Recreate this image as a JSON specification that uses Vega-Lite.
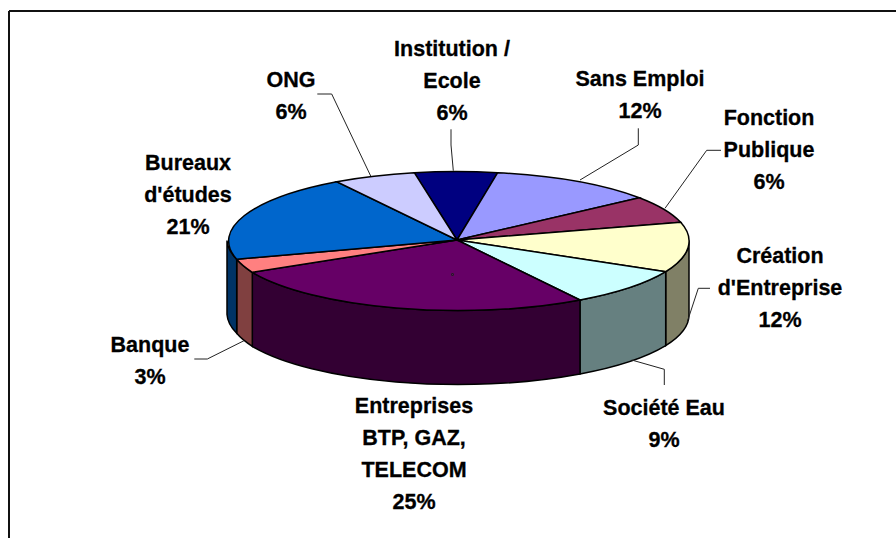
{
"$schema":"https://vega.github.io/schema/vega-lite/v6.json",
"width":887,"height":527,"padding":{"left":9,"top":11,"right":0,"bottom":0},"autosize":"none",
"background":"white",
"view":{"stroke":null},
"data":{"values":[
{"category":"Institution / Ecole","pct":6,"label":"Institution /\nEcole\n6%"},
{"category":"Sans Emploi","pct":12,"label":"Sans Emploi\n12%"},
{"category":"Fonction Publique","pct":6,"label":"Fonction\nPublique\n6%"},
{"category":"Création d'Entreprise","pct":12,"label":"Création\nd'Entreprise\n12%"},
{"category":"Société Eau","pct":9,"label":"Société Eau\n9%"},
{"category":"Entreprises BTP, GAZ, TELECOM","pct":25,"label":"Entreprises\nBTP, GAZ,\nTELECOM\n25%"},
{"category":"Banque","pct":3,"label":"Banque\n3%"},
{"category":"Bureaux d'études","pct":21,"label":"Bureaux\nd'études\n21%"},
{"category":"ONG","pct":6,"label":"ONG\n6%"}
]},
"layer":[
{"data":{"values":[{"edge":"left"}]},"mark":{"type":"rule","stroke":"#111","strokeWidth":2},"encoding":{"x":{"value":0}}},
{"data":{"values":[{"edge":"top"}]},"mark":{"type":"rule","stroke":"#111","strokeWidth":2},"encoding":{"y":{"value":0}}},
{"transform":[{"filter":"indexof(['Création d\\'Entreprise','Société Eau','Entreprises BTP, GAZ, TELECOM','Banque','Bureaux d\\'études'],datum.category)>=0"}],
"mark":{"type":"point","filled":true,"size":4,"stroke":"black","strokeWidth":1.5,"opacity":1,"strokeOpacity":1},
"encoding":{
"shape":{"field":"category","type":"nominal","legend":null,"scale":{"domain":["Création d'Entreprise","Société Eau","Entreprises BTP, GAZ, TELECOM","Banque","Bureaux d'études"],
"range":[
"M213.2 -2.8A231 70 0 0 0 236.5 -34L236.5 40A231 70 0 0 1 213.2 71.2Z",
"M127.5 25.5A231 70 0 0 0 213.2 -2.8L213.2 71.2A231 70 0 0 1 127.5 99.5Z",
"M-200.2 -2.2A231 70 0 0 0 127.5 25.5L127.5 99.5A231 70 0 0 1 -200.2 71.8Z",
"M-215.8 -15.2A231 70 0 0 0 -200.2 -2.2L-200.2 71.8A231 70 0 0 1 -215.8 58.8Z",
"M-225.5 -34A231 70 0 0 0 -215.8 -15.2L-215.8 58.8A231 70 0 0 1 -225.5 40Z"]}},
"fill":{"field":"category","type":"nominal","legend":null,"scale":{"domain":["Création d'Entreprise","Société Eau","Entreprises BTP, GAZ, TELECOM","Banque","Bureaux d'études"],"range":["#808066","#668080","#330033","#804040","#003366"]}}
}},
{"mark":{"type":"point","filled":true,"size":4,"stroke":"black","strokeWidth":1.5,"opacity":1,"strokeOpacity":1},
"encoding":{
"shape":{"field":"category","type":"nominal","legend":null,"scale":{"domain":["Institution / Ecole","Sans Emploi","Fonction Publique","Création d'Entreprise","Société Eau","Entreprises BTP, GAZ, TELECOM","Banque","Bureaux d'études","ONG"],
"range":[
"M4.5 -34.5L-38.2 -101.8A231 70 0 0 1 45.2 -101.8Z",
"M4.5 -34.5L45.2 -101.8A231 70 0 0 1 186.8 -76.8Z",
"M4.5 -34.5L186.8 -76.8A231 70 0 0 1 228.2 -52.2Z",
"M4.5 -34.5L228.2 -52.2A231 70 0 0 1 213.2 -2.8Z",
"M4.5 -34.5L213.2 -2.8A231 70 0 0 1 127.5 25.5Z",
"M4.5 -34.5L127.5 25.5A231 70 0 0 1 -200.2 -2.2Z",
"M4.5 -34.5L-200.2 -2.2A231 70 0 0 1 -215.8 -15.2Z",
"M4.5 -34.5L-215.8 -15.2A231 70 0 0 1 -115.8 -92.8Z",
"M4.5 -34.5L-115.8 -92.8A231 70 0 0 1 -38.2 -101.8Z"]}},
"fill":{"field":"category","type":"nominal","legend":null,"scale":{"domain":["Institution / Ecole","Sans Emploi","Fonction Publique","Création d'Entreprise","Société Eau","Entreprises BTP, GAZ, TELECOM","Banque","Bureaux d'études","ONG"],"range":["#000080","#9999FF","#993366","#FFFFCC","#CCFFFF","#660066","#FF8080","#0066CC","#CCCCFF"]}}
}},
{"mark":{"type":"point","filled":false,"size":4,"stroke":"#222","strokeWidth":1,"opacity":1},
"encoding":{
"shape":{"field":"category","type":"nominal","legend":null,"scale":{"domain":["Institution / Ecole","Sans Emploi","Fonction Publique","Création d'Entreprise","Société Eau","Banque","ONG"],
"range":[
"M-1.5 -145.2L-1.5 -129.5L0.8 -103.8",
"M185.8 -146.2L185.8 -129.5L127.5 -94.5",
"M268.5 -124.2L254.2 -124.2L212.5 -66.2",
"M257.5 13.8L245.8 13.8L234.8 47.2",
"M179.2 85.5L211.8 94.8L211.8 110.5",
"M-258.2 84.5L-245.2 84.5L-208.5 66.2",
"M-135.2 -180.5L-120.8 -180.5L-81.8 -98.5"]}}
}},
{"mark":{"type":"text","font":"Liberation Sans","fontWeight":"bold","fontSize":21.5,"align":"center","baseline":"middle","lineBreak":"\n","lineHeight":32.2,"fill":"black","stroke":"black","strokeWidth":0.3,
"x":{"expr":"{'Institution / Ecole':443,'Sans Emploi':631,'Fonction Publique':760,'Création d\\'Entreprise':771,'Société Eau':655,'Entreprises BTP, GAZ, TELECOM':405,'Banque':141,'Bureaux d\\'études':179,'ONG':282}[datum.category]"},
"y":{"expr":"{'Institution / Ecole':38.5,'Sans Emploi':69,'Fonction Publique':108,'Création d\\'Entreprise':246,'Société Eau':398,'Entreprises BTP, GAZ, TELECOM':395.5,'Banque':334.5,'Bureaux d\\'études':153,'ONG':70}[datum.category]"}},
"encoding":{"text":{"field":"label"}}}
],
"resolve":{"scale":{"shape":"independent","fill":"independent"}}
}
